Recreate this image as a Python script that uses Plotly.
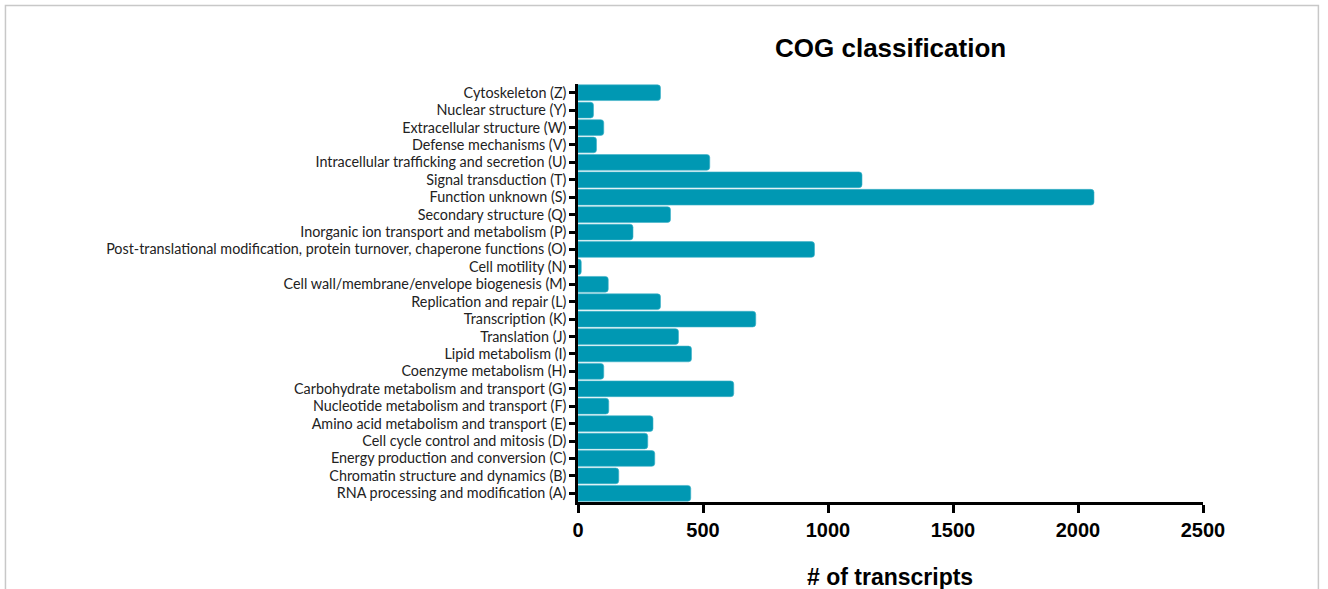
import plotly.graph_objects as go

categories = [
    "RNA processing and modification (A)",
    "Chromatin structure and dynamics (B)",
    "Energy production and conversion (C)",
    "Cell cycle control and mitosis (D)",
    "Amino acid metabolism and transport (E)",
    "Nucleotide metabolism and transport (F)",
    "Carbohydrate metabolism and transport (G)",
    "Coenzyme metabolism (H)",
    "Lipid metabolism (I)",
    "Translation (J)",
    "Transcription (K)",
    "Replication and repair (L)",
    "Cell wall/membrane/envelope biogenesis (M)",
    "Cell motility (N)",
    "Post-translational modification, protein turnover, chaperone functions (O)",
    "Inorganic ion transport and metabolism (P)",
    "Secondary structure (Q)",
    "Function unknown (S)",
    "Signal transduction (T)",
    "Intracellular trafficking and secretion (U)",
    "Defense mechanisms (V)",
    "Extracellular structure (W)",
    "Nuclear structure (Y)",
    "Cytoskeleton (Z)",
]
counts = [451, 163, 307, 279, 300, 123, 623, 103, 454, 402, 711, 330, 121, 13,
          946, 220, 370, 2064, 1136, 527, 74, 103, 62, 330]
x_ticks = [0, 500, 1000, 1500, 2000, 2500]

W, H = 1328, 589
L, R, T, B = 577.5, 125, 84, 87
pw, ph = W - L - R, H - T - B

def px_x(p):
    return (p - L) / pw

def px_y(p):
    return (H - B - p) / ph

fig = go.Figure(go.Bar(
    x=counts, y=categories, orientation="h",
    marker=dict(color="#0098b3", line=dict(color="#40b2c8", width=0.6), cornerradius=3),
    width=0.9,
))

fig.update_layout(
    width=W, height=H,
    margin=dict(l=L, r=R, t=T, b=B),
    paper_bgcolor="white", plot_bgcolor="white",
    showlegend=False,
    xaxis=dict(
        range=[0, 2500], tickvals=x_ticks, ticktext=[str(v) for v in x_ticks],
        showgrid=False, zeroline=False,
        showline=True, linecolor="black", linewidth=2.5,
        ticks="outside", ticklen=8, tickwidth=2.5, tickcolor="black",
        tickfont=dict(family="Liberation Sans", size=20, color="black", weight="bold"),
    ),
    yaxis=dict(
        categoryorder="array", categoryarray=categories,
        range=[-0.5, len(categories) - 0.5],
        showgrid=False, zeroline=False,
        showline=True, linecolor="black", linewidth=2.5,
        ticks="outside", ticklen=6, tickwidth=2.5, tickcolor="black",
        tickfont=dict(family="Lato", size=14.35, color="#222222"),
        ticklabelstandoff=0,
    ),
    annotations=[
        dict(text="<b>COG classification</b>", xref="paper", yref="paper",
             x=px_x(890), y=px_y(48), xanchor="center", yanchor="middle",
             showarrow=False, font=dict(family="Liberation Sans", size=26, color="black")),
        dict(text="<b># of transcripts</b>", xref="paper", yref="paper",
             x=px_x(890), y=px_y(577), xanchor="center", yanchor="middle",
             showarrow=False, font=dict(family="Liberation Sans", size=23, color="black")),
    ],
    shapes=[
        dict(type="rect", xref="paper", yref="paper",
             x0=px_x(4.5), x1=px_x(1318.5), y0=px_y(620), y1=px_y(5.5),
             line=dict(color="#c8c8c8", width=1.5), fillcolor="rgba(0,0,0,0)", layer="below"),
    ],
)

fig.write_html(
    "out.html",
    config={"displayModeBar": False},
    post_script="document.body.style.margin='0';document.body.style.padding='0';",
)
